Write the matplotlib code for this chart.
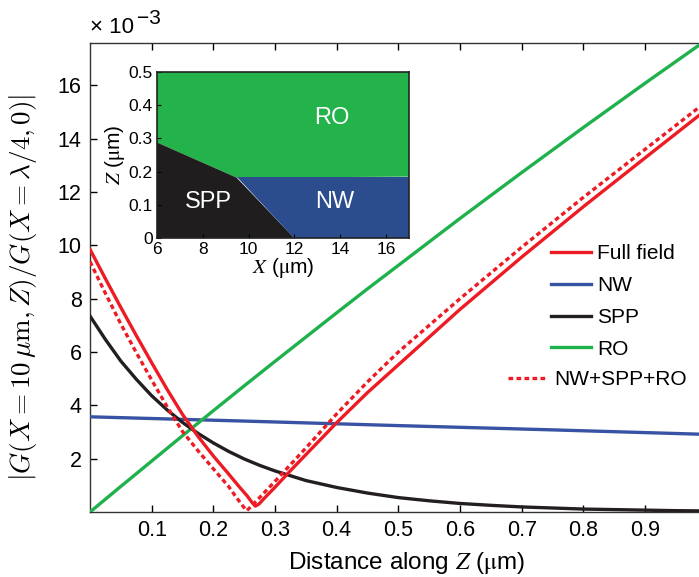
import matplotlib
matplotlib.use("Agg")
import matplotlib.pyplot as plt
from matplotlib.patches import Polygon

plt.rcParams['font.family'] = ['Liberation Sans', 'DejaVu Sans']
plt.rcParams['mathtext.fontset'] = 'stix'

# ---------------- data (values in units of 1e-3) ----------------
z_full = [0, 0.025, 0.05, 0.075, 0.1, 0.125, 0.15, 0.175, 0.2, 0.225, 0.24, 0.255,
          0.262, 0.268, 0.274, 0.282, 0.3, 0.325, 0.35, 0.4, 0.45, 0.5, 0.6, 0.7,
          0.8, 0.9, 1.0]
full_field = [9.85, 8.75, 7.67, 6.62, 5.6, 4.6, 3.66, 2.84, 2.1, 1.42, 1.0, 0.6,
              0.38, 0.22, 0.3, 0.5, 0.93, 1.55, 2.15, 3.35, 4.48, 5.52, 7.6, 9.56,
              11.45, 13.28, 15.1]

z_sum = [0, 0.025, 0.05, 0.075, 0.1, 0.125, 0.15, 0.175, 0.2, 0.225, 0.235, 0.248,
         0.254, 0.26, 0.27, 0.3, 0.35, 0.4, 0.45, 0.5, 0.6, 0.7, 0.8, 0.9, 1.0]
nw_spp_ro = [9.39, 8.2, 7.05, 5.98, 4.95, 3.95, 3.02, 2.3, 1.62, 0.95, 0.62, 0.22,
             0.05, 0.18, 0.42, 1.15, 2.4, 3.68, 4.88, 6.0, 8.0, 9.93, 11.8, 13.6, 15.4]

z_nw = [0, 0.25, 0.5, 0.75, 1.0]
nw = [3.57, 3.41, 3.24, 3.08, 2.91]

z_spp = [0, 0.025, 0.05, 0.075, 0.1, 0.125, 0.15, 0.175, 0.2, 0.225, 0.25, 0.275,
         0.3, 0.35, 0.4, 0.45, 0.5, 0.55, 0.6, 0.65, 0.7, 0.75, 0.8, 0.85, 0.9,
         0.95, 1.0]
spp = [7.35, 6.47, 5.66, 4.98, 4.36, 3.83, 3.36, 2.95, 2.59, 2.27, 1.99, 1.75,
       1.54, 1.18, 0.92, 0.71, 0.54, 0.42, 0.32, 0.25, 0.19, 0.15, 0.11, 0.09,
       0.07, 0.05, 0.04]

z_ro = [0, 0.05, 0.1, 0.15, 0.2, 0.25, 0.3, 0.35, 0.4, 0.45, 0.5, 0.6, 0.7, 0.8,
        0.9, 1.0]
ro = [0, 0.96, 1.91, 2.86, 3.80, 4.73, 5.65, 6.56, 7.47, 8.37, 9.25, 11.01, 12.73,
      14.42, 16.08, 17.71]

series_labels = ['Full field', 'NW', 'SPP', 'RO', 'NW+SPP+RO']
x_ticks = [0.1, 0.2, 0.3, 0.4, 0.5, 0.6, 0.7, 0.8, 0.9]
y_ticks = [2, 4, 6, 8, 10, 12, 14, 16]

# inset region map (X in um, Z in um)
ro_region_X = [6, 17, 17, 9.48, 6]
ro_region_Z = [0.5, 0.5, 0.185, 0.182, 0.288]
spp_region_X = [6, 6, 9.48, 12.0]
spp_region_Z = [0, 0.288, 0.182, 0]
nw_region_X = [9.48, 17, 17, 12.0]
nw_region_Z = [0.185, 0.185, 0, 0]
region_names = ['RO', 'SPP', 'NW']
region_label_pos = [(13.64, 0.361), (8.27, 0.109), (13.73, 0.109)]
inset_x_ticks = [6, 8, 10, 12, 14, 16]
inset_y_ticks = [0, 0.1, 0.2, 0.3, 0.4, 0.5]

# ---------------- colours ----------------
c_red = '#ed1c24'
c_blue = '#3953a4'
c_black = '#231f20'
c_green = '#1fb14c'

W, H = 699, 577
fig = plt.figure(figsize=(W / 100, H / 100), dpi=100)
ax = fig.add_axes([90 / W, 1 - 512 / H, (W - 90) / W, (512 - 42.7) / H])

lw = 2.4
dash = (0, (1.4, 1.0))
l_full, = ax.plot(z_full, full_field, color=c_red, lw=lw, label=series_labels[0], zorder=5)
l_nw, = ax.plot(z_nw, nw, color=c_blue, lw=lw, label=series_labels[1], zorder=3)
l_spp, = ax.plot(z_spp, spp, color=c_black, lw=lw, label=series_labels[2], zorder=4)
l_ro, = ax.plot(z_ro, ro, color=c_green, lw=lw, label=series_labels[3], zorder=3)
l_sum, = ax.plot(z_sum, nw_spp_ro, color=c_red, lw=lw, ls=dash,
                 label=series_labels[4], zorder=5)

ax.set_xlim(0, 0.9875)
ax.set_ylim(0, 17.6)
ax.set_xticks(x_ticks)
ax.set_xticklabels([f'{t:.1f}' for t in x_ticks])
ax.set_yticks(y_ticks)
ax.set_yticklabels([str(t) for t in y_ticks])
ax.tick_params(direction='in', length=5, width=1, labelsize=15.5, top=True,
               right=False, pad=6)
ax.spines['right'].set_visible(False)
for s in ['left', 'bottom', 'top']:
    ax.spines[s].set_linewidth(1.0)
    ax.spines[s].set_color('#333333')

ax.set_xlabel(r'Distance along $Z$ ($\mathrm{\mu}$m)', fontsize=17.5, labelpad=5)
ax.xaxis.set_label_coords((406 - 90) / (W - 90), -0.082)
ax.set_ylabel(r'$|G(X = 10\,\mathrm{\mu m}, Z)/G(X = \lambda/4, 0)|$',
              fontsize=19.5, math_fontfamily='cm')
ax.yaxis.set_label_coords(-(90 - 39) / (W - 90), (512 - 287) / (512 - 42.7))

fig.text(90 / W, 1 - 33 / H, '\u00d7 10', fontsize=16, ha='left', va='baseline')
fig.text(137 / W, 1 - 24 / H, '\u22123', fontsize=15, ha='left', va='baseline')

fs_leg = 15
leg1 = ax.legend(handles=[l_full, l_nw, l_spp, l_ro], labels=series_labels[:4],
                 loc='upper left', bbox_to_anchor=(551 / W, 1 - 244 / H),
                 bbox_transform=fig.transFigure, frameon=False, fontsize=fs_leg,
                 handlelength=1.92, handletextpad=0.29, labelspacing=0.62,
                 borderpad=0, borderaxespad=0)
ax.add_artist(leg1)
leg2 = ax.legend(handles=[l_sum], labels=series_labels[4:],
                 loc='upper left', bbox_to_anchor=(508 / W, 1 - 370 / H),
                 bbox_transform=fig.transFigure, frameon=False, fontsize=fs_leg,
                 handlelength=1.92, handletextpad=0.29, borderpad=0,
                 borderaxespad=0)

# ---------------- inset ----------------
ins = fig.add_axes([156.7 / W, 1 - 238.3 / H, (409.3 - 156.7) / W, (238.3 - 71.7) / H])
ins.add_patch(Polygon(list(zip(ro_region_X, ro_region_Z)), closed=True,
                      facecolor='#24b24b', edgecolor='none'))
ins.add_patch(Polygon(list(zip(spp_region_X, spp_region_Z)), closed=True,
                      facecolor='#1f1d1e', edgecolor='none'))
ins.add_patch(Polygon(list(zip(nw_region_X, nw_region_Z)), closed=True,
                      facecolor='#2b4d8e', edgecolor='none'))
for name, (px, pz) in zip(region_names, region_label_pos):
    ins.text(px, pz, name, color='white', fontsize=17, ha='center', va='center')
ins.set_xlim(6, 17)
ins.set_ylim(0, 0.5)
ins.set_xticks(inset_x_ticks)
ins.set_xticklabels([str(t) for t in inset_x_ticks])
ins.set_yticks(inset_y_ticks)
ins.set_yticklabels(['0'] + [f'{t:.1f}' for t in inset_y_ticks[1:]])
ins.tick_params(direction='in', length=3, labelsize=12.5, pad=3)
for s in ins.spines.values():
    s.set_linewidth(1.2)
    s.set_color('#222222')
ins.set_xlabel(r'$X$ ($\mathrm{\mu}$m)', fontsize=15, labelpad=-1)
ins.set_ylabel(r'$Z$ ($\mathrm{\mu}$m)', fontsize=15, labelpad=1)

fig.savefig('out.png', dpi=100)
